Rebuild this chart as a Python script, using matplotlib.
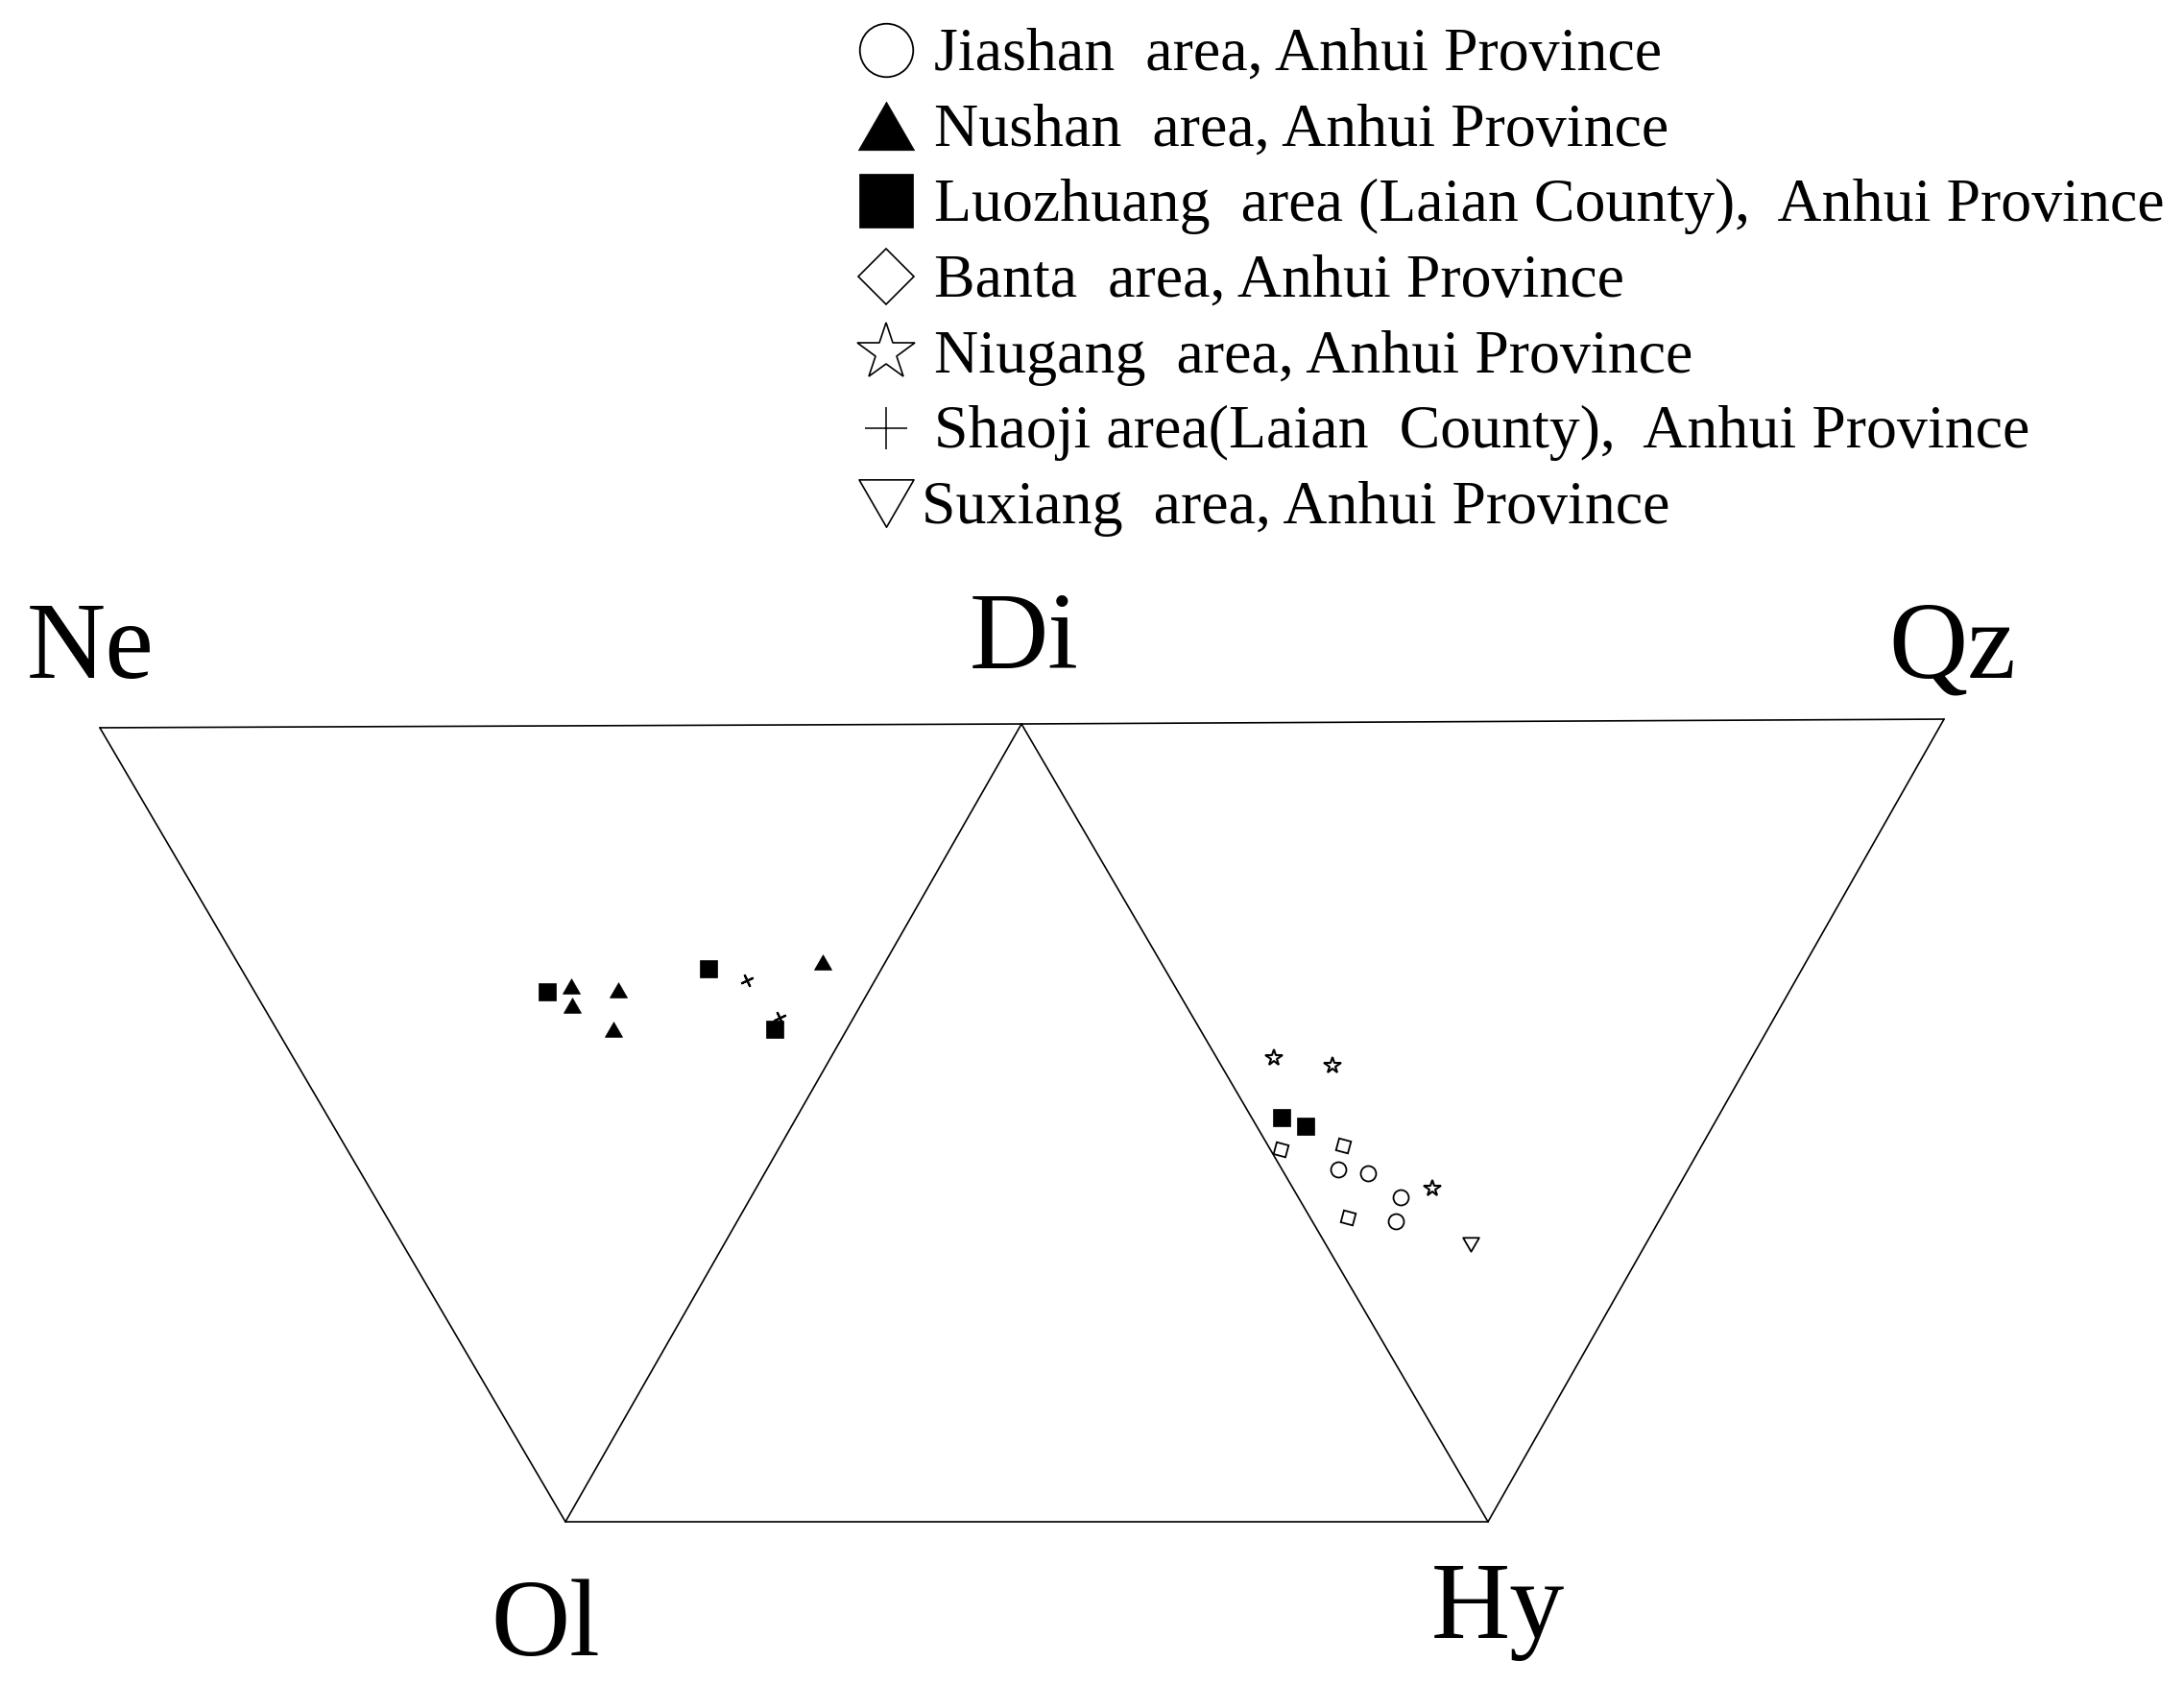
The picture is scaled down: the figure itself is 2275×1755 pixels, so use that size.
import matplotlib
matplotlib.use("Agg")
import matplotlib.pyplot as plt
from matplotlib.path import Path
import numpy as np

plt.rcParams['font.family'] = ['Liberation Serif', 'DejaVu Serif']

# ---------------- data (diagram units: Ol=(0,0), Hy=(1,0)) ----------------
vertex_names = ["Ne", "Di", "Qz", "Ol", "Hy"]
vertex_x = [-0.5047, 0.4943, 1.4943, 0.0, 1.0]
vertex_y = [0.8606, 0.8647, 0.8699, 0.0, 0.0]

jiashan_x = [0.8377, 0.8699, 0.9053, 0.9004]
jiashan_y = [0.3815, 0.3774, 0.3514, 0.3254]

nushan_x = [0.0062, 0.0070, 0.0572, 0.0520, 0.2786]
nushan_y = [0.5806, 0.5598, 0.5764, 0.5338, 0.6070]

luozhuang_x = [-0.0198, 0.1550, 0.2265, 0.7760, 0.8020]
luozhuang_y = [0.5744, 0.5990, 0.5340, 0.4377, 0.4284]

banta_x = [0.7756, 0.8432, 0.8481]
banta_y = [0.4034, 0.4082, 0.3295]

niugang_x = [0.7676, 0.8317, 0.9400]
niugang_y = [0.5029, 0.4942, 0.3607]

shaoji_x = [0.1967, 0.2317]
shaoji_y = [0.5868, 0.5463]

suxiang_x = [0.9810]
suxiang_y = [0.3007]

legend_labels = [
    "Jiashan  area, Anhui Province",
    "Nushan  area, Anhui Province",
    "Luozhuang  area (Laian County),  Anhui Province",
    "Banta  area, Anhui Province",
    "Niugang  area, Anhui Province",
    "Shaoji area(Laian  County),  Anhui Province",
    "Suxiang  area, Anhui Province",
]

# ---------------- figure ----------------
W, H, DPI = 2275, 1755, 100
fig = plt.figure(figsize=(W / DPI, H / DPI), dpi=DPI)
ax = fig.add_axes([0, 0, 1, 1])
ox, oy, unit = 589.0, 1585.0, 961.0
ax.set_xlim(-ox / unit, (W - ox) / unit)
ax.set_ylim((oy - H) / unit, oy / unit)
ax.axis("off")

V = {n: (x, y) for n, x, y in zip(vertex_names, vertex_x, vertex_y)}
edges = [("Ne", "Di"), ("Di", "Qz"), ("Ne", "Ol"), ("Di", "Ol"),
         ("Di", "Hy"), ("Qz", "Hy"), ("Ol", "Hy")]
for a, b in edges:
    ax.plot([V[a][0], V[b][0]], [V[a][1], V[b][1]], color="black", lw=1.2,
            solid_capstyle="round", zorder=1)

# custom triangle markers (equilateral)
tri_up = Path([(-1, -0.866), (1, -0.866), (0, 0.866), (-1, -0.866)],
              [Path.MOVETO, Path.LINETO, Path.LINETO, Path.CLOSEPOLY])
tri_dn = Path([(-1, 0.866), (1, 0.866), (0, -0.866), (-1, 0.866)],
              [Path.MOVETO, Path.LINETO, Path.LINETO, Path.CLOSEPOLY])

series = [
    (jiashan_x, jiashan_y, dict(marker="o", ms=11.5, mfc="white", mec="black", mew=1.3),
     dict(marker="o", ms=40, mfc="white", mec="black", mew=1.3)),
    (nushan_x, nushan_y, dict(marker=tri_up, ms=13, mfc="black", mec="black", mew=0.5),
     dict(marker=tri_up, ms=42, mfc="black", mec="black", mew=0.5)),
    (luozhuang_x, luozhuang_y, dict(marker="s", ms=13, mfc="black", mec="black", mew=0.5),
     dict(marker="s", ms=40, mfc="black", mec="black", mew=0.5)),
    (banta_x, banta_y, dict(marker=(4, 0, 30), ms=13, mfc="white", mec="black", mew=1.3),
     dict(marker="D", ms=29.5, mfc="white", mec="black", mew=1.2)),
    (niugang_x, niugang_y, dict(marker="*", ms=13, mfc="white", mec="black", mew=1.5),
     dict(marker="*", ms=45, mfc="white", mec="black", mew=1.2)),
    (shaoji_x, shaoji_y, dict(marker=(4, 2, 25), ms=10, mfc="black", mec="black", mew=1.5),
     dict(marker="+", ms=31, mfc="black", mec="black", mew=1.1)),
    (suxiang_x, suxiang_y, dict(marker=tri_dn, ms=12, mfc="white", mec="black", mew=1.3),
     dict(marker=tri_dn, ms=41, mfc="white", mec="black", mew=1.2)),
]

for xs, ys, st, _ in series:
    ax.plot(xs, ys, linestyle="none", zorder=3, **st)

# vertex labels (pixel positions of baseline-left)
label_px = {"Ne": (28, 706), "Di": (1010, 696), "Qz": (1967, 706),
            "Ol": (511, 1724), "Hy": (1491, 1706)}
for n in vertex_names:
    px, py = label_px[n]
    fig.text(px / W, 1 - py / H, n, fontsize=82, ha="left", va="baseline")

# legend (manual, frameless)
marker_x = 923
text_x = [973, 973, 973, 973, 973, 973, 960]
base0, dy = 73, 78.7
for i, (lab, (_, _, _, lst)) in enumerate(zip(legend_labels, series)):
    yb = base0 + i * dy
    ym = yb - 21
    fig.add_artist(plt.Line2D([marker_x / W], [1 - ym / H], transform=fig.transFigure,
                              linestyle="none", **lst))
    fig.text(text_x[i] / W, 1 - yb / H, lab, fontsize=46, ha="left", va="baseline")

fig.savefig("out.png", dpi=DPI, facecolor="white")
